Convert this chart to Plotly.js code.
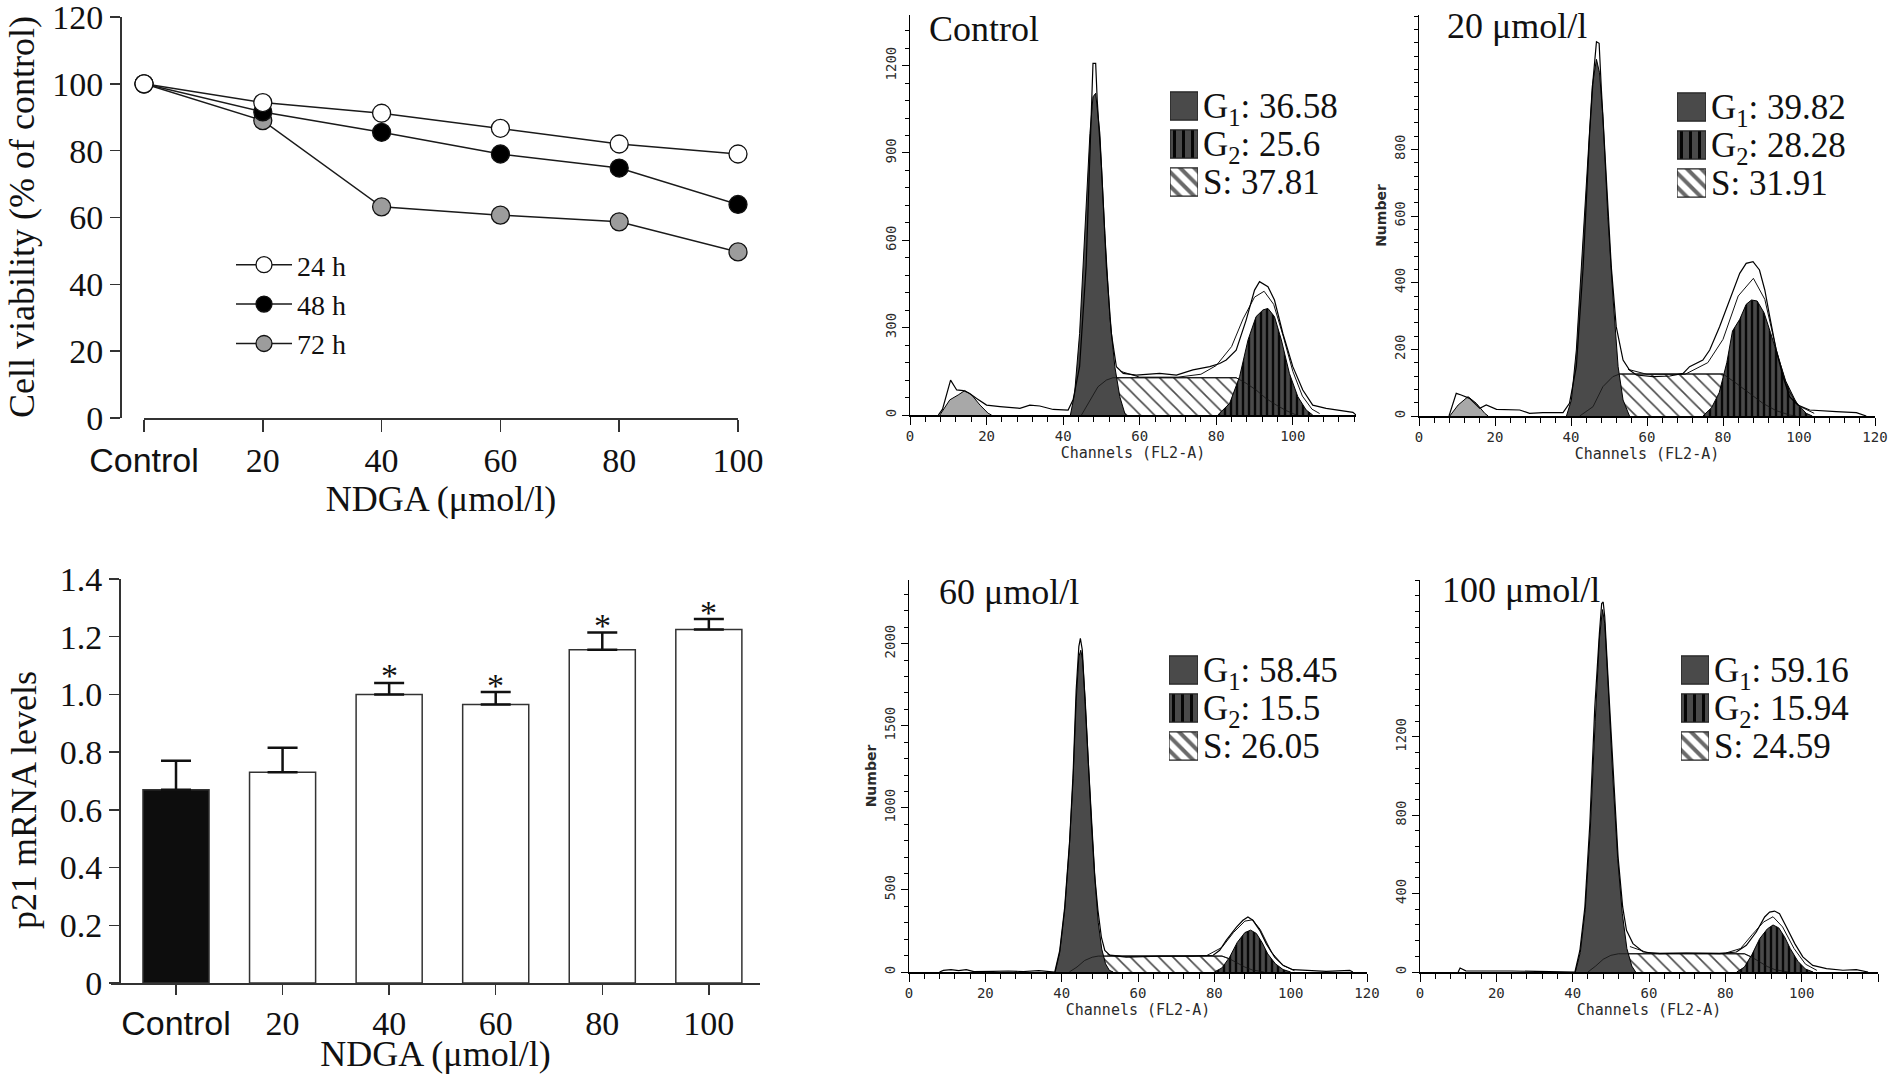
<!DOCTYPE html>
<html>
<head>
<meta charset="utf-8">
<script src="https://cdn.plot.ly/plotly-3.0.1.min.js"></script>
<style>
  html, body { margin: 0; padding: 0; background: #fff; }
  #fig { width: 1890px; height: 1074px; }
</style>
</head>
<body>
<div id="fig"></div>
<script>
// ---- cell viability (line chart) ----
const doses = ['Control', '20', '40', '60', '80', '100'];
const via24 = [100, 94.4, 91.2, 86.7, 82.0, 79.0];
const via48 = [100, 91.6, 85.5, 79.0, 74.8, 63.9];
const via72 = [100, 89.0, 63.2, 60.7, 58.7, 49.7];

// ---- p21 mRNA (bar chart) ----
const p21 = [0.67, 0.73, 1.00, 0.965, 1.155, 1.225];
const p21Err = [0.10, 0.085, 0.04, 0.043, 0.06, 0.036];
const p21Sig = ['', '', '*', '*', '*', '*'];

// ---- flow cytometry: phase percentages ----
const phaseKeys = ['G1', 'G2', 'S'];
const phaseLabels = ['G<sub>1</sub>', 'G<sub>2</sub>', 'S'];
const ctrlPct = [36.58, 25.6, 37.81];
const p20Pct = [39.82, 28.28, 31.91];
const p60Pct = [58.45, 15.5, 26.05];
const p100Pct = [59.16, 15.94, 24.59];

// ---- flow cytometry curves: [channel, count] ----
const ctrlRaw = [[7.4,0],[8.5,20],[10.6,120],[11.3,105],[12.2,86],[13.9,84],[15.5,75],[17.4,57],[20,34],[23.5,29],[28.7,23],[31.3,34],[33.9,31],[37.4,19],[41.3,17],[42.6,52],[44.3,166],[46,510],[47.4,1082],[47.8,1208],[48.5,1208],[48.9,1082],[50,853],[51.3,510],[52.6,280],[53.9,166],[55.7,143],[59.1,137],[65.2,143],[69.6,137],[73.9,155],[78.3,166],[80.9,177],[82.6,189],[85.2,223],[87.8,326],[90,429],[91.3,458],[93.5,441],[95.2,395],[97.4,280],[100,166],[102.6,86],[105.2,34],[108.7,23],[113,15],[115.7,9],[116.5,0]];
const ctrlFit = [[55,150],[60,130],[70,130],[76,140],[80,170],[84,235],[87,330],[90,405],[92.5,425],[95,380],[97.5,270],[100,150],[102.5,65],[105,20],[107,5]];
const ctrlG1 = [[41.9,0],[43,74],[44.3,280],[45.7,624],[47,967],[47.8,1093],[48.5,1105],[49.6,967],[50.9,624],[52.2,338],[53.5,166],[54.8,63],[56.1,6],[56.5,0]];
const ctrlS = [[44.8,0],[47,52],[49.1,97],[51.3,120],[53,128],[85.2,128],[87.8,109],[90.4,86],[93,57],[95.7,34],[98.3,15],[100.9,0]];
const ctrlG2 = [[80.4,0],[83.5,40],[86.1,132],[88.3,258],[90.4,338],[92.2,361],[93.5,366],[95.2,338],[97,258],[99.1,143],[101.3,63],[103.5,17],[105.2,0]];
const ctrlDebris = [[7.8,0],[10.4,52],[12.6,69],[14.3,84],[16.1,69],[18.3,34],[20.4,6],[21.3,0]];
const ctrlPeaks = [47.8, 91.3];

const p20Raw = [[7.9,0],[9.8,68],[11.1,63],[13.3,53],[16,23],[17.7,33],[20.4,20],[26.5,18],[29.1,8],[32.6,10],[37.9,10],[39.6,38],[41.4,148],[43.2,448],[44.9,848],[45.8,1008],[46.7,1123],[47.4,1118],[48,978],[49.3,698],[50.6,448],[51.9,268],[53.7,168],[55.4,138],[57.2,123],[61.6,118],[66,120],[69.5,128],[71.2,148],[74.7,168],[76.5,198],[79.1,268],[81.8,348],[84.4,428],[86.1,458],[87.9,463],[89.6,438],[91,378],[92.3,298],[94,198],[95.8,118],[97.5,58],[99.7,33],[102.8,18],[109.8,13],[115.1,10],[117.7,0]];
const p20Fit = [[55,140],[60,125],[70,125],[76,160],[80,230],[84,360],[88,413],[91,350],[94,200],[97,80],[100,30],[104,8]];
const p20G1 = [[38.8,0],[40.1,48],[41.4,198],[43.2,548],[44.5,798],[45.6,990],[46.7,1070],[47.5,1030],[48.4,898],[49.7,598],[51.1,348],[52.4,148],[53.7,48],[55.4,0]];
const p20S = [[42.3,0],[45.8,28],[48.4,88],[51,118],[52.8,126],[80,126],[83.5,98],[87,68],[90.5,38],[94,16],[97.5,3],[99.3,0]];
const p20G2 = [[74.7,0],[77,25],[79,70],[81,160],[82.5,255],[84.4,290],[86.1,335],[87.5,348],[89,345],[90.8,310],[92.5,250],[94.3,185],[96.5,105],[99.3,40],[101.9,8],[103.5,0]];
const p20Debris = [[8.1,0],[10.3,33],[12.9,58],[15.1,38],[17.3,8],[18.2,0]];
const p20Peaks = [46.9, 87.7];

const p60Raw = [[8,0],[9,10],[11,14],[13,8],[15,14],[17,2],[22,4],[26,6],[30,3],[34,8],[38.2,0],[39.5,132],[40.8,396],[42.1,803],[43,1210],[43.8,1718],[44.5,1982],[44.9,2033],[45.4,1962],[46,1718],[46.9,1311],[47.8,905],[48.6,600],[49.5,376],[50.4,213],[51.3,132],[52.6,102],[56.9,91],[65.7,96],[74.4,96],[79.7,102],[81.4,132],[83.1,193],[85.8,274],[87.5,315],[88.8,335],[90.1,315],[91.9,254],[93.6,173],[95.8,91],[98,41],[100.6,14],[104.1,10],[109.3,4],[115.5,10],[116.3,0]];
const p60Fit = [[52,105],[56,96],[78,100],[82,150],[85,240],[88,310],[90,318],[92,260],[95,120],[98,40],[101,8]];
const p60G1 = [[38.3,0],[39.5,120],[40.8,380],[42,760],[43,1180],[43.8,1650],[44.5,1920],[45,1960],[45.5,1900],[46.2,1650],[47,1280],[47.9,880],[48.8,540],[49.6,300],[50.5,140],[51.5,50],[52.5,10],[53.5,0]];
const p60S = [[42,0],[44,30],[46,70],[48,90],[49.6,97],[82,97],[84,80],[86,55],[88,30],[90,12],[92,3],[93,0]];
const p60G2 = [[80,0],[82,25],[84,90],[86,180],[88,240],[89.5,255],[91,235],[92.5,180],[94,110],[96,50],[98,15],[100,0]];
const p60Peaks = [44.7, 88.4];

const p100Raw = [[10,0],[10.5,20],[12,6],[16,4],[20,5],[24,5],[28,4],[30,0],[40.6,0],[41.9,111],[43.2,332],[44.5,757],[45.8,1353],[47,1728],[47.6,1881],[48,1889],[48.4,1813],[49.3,1489],[50.6,1013],[51.9,587],[53.1,332],[54.1,213],[55.8,145],[58.5,102],[62.8,94],[69.8,97],[78.5,94],[82.9,102],[85.5,136],[88.1,204],[90.3,281],[91.6,306],[92.9,311],[94.2,298],[96,230],[98.2,145],[100.3,77],[102.9,34],[106.5,17],[110.8,9],[114.3,12],[117.4,0]];
const p100Fit = [[55,130],[60,96],[80,96],[84,120],[87,190],[90,255],[92.5,282],[95,230],[98,120],[101,40],[104,8]];
const p100G1 = [[40.7,0],[42,100],[43.3,320],[44.6,720],[45.9,1280],[47,1700],[47.8,1850],[48.4,1780],[49.3,1460],[50.5,1000],[51.8,580],[53,300],[54.2,120],[55.5,30],[56.5,0]];
const p100S = [[44,0],[46,30],[48,65],[50,85],[52,93],[85,93],[87,75],[89,50],[91,28],[93,12],[95,3],[96.5,0]];
const p100G2 = [[83,0],[85,25],[87,90],[89,170],[91,220],[92.5,240],[94,225],[95.5,180],[97,120],[99,55],[101,15],[103,0]];
const p100Peaks = [48.3, 92.9];

// ---- helpers / styles ----
const SERIF = 'Liberation Serif, Times New Roman, serif';
const SANS = 'Liberation Sans, Arial, sans-serif';
const MONO = 'DejaVu Sans Mono, monospace';
const W = 1890, H = 1074;
const xd = (l, r) => [l / W, r / W];
const yd = (t, b) => [1 - b / H, 1 - t / H];

const doseTicks = doses.map(d => d === 'Control' ? `<span style="font-family:${SANS}">${d}</span>` : d);
const tickFont = {family: SERIF, size: 34, color: '#111'};
const titleFont = {family: SERIF, size: 36, color: '#111'};

const traces = [];
const annotations = [];

// line chart
const series = [
    {name: '72 h', y: via72, fill: '#9c9c9c'},
    {name: '48 h', y: via48, fill: '#000000'},
    {name: '24 h', y: via24, fill: '#ffffff'}
];
series.forEach(s => traces.push({
    type: 'scatter', mode: 'lines+markers', x: doses, y: s.y, name: s.name,
    xaxis: 'x', yaxis: 'y', cliponaxis: false,
    line: {color: '#1a1a1a', width: 1.5},
    marker: {size: 18, color: s.fill, line: {color: '#111', width: 1.3}}
}));

// bar chart
traces.push({
    type: 'bar', x: doses, y: p21, xaxis: 'x2', yaxis: 'y2', width: 0.62, showlegend: false,
    marker: {color: doses.map(d => d === 'Control' ? '#0d0d0d' : '#ffffff'), line: {color: '#333', width: 1.5}},
    error_y: {type: 'data', symmetric: false, array: p21Err, arrayminus: p21Err.map(() => 0),
              color: '#111', thickness: 2.5, width: 15}
});
// significance marks sit just above each error-bar cap (x given as category index)
p21Sig.forEach((s, i) => {
    if (!s) return;
    annotations.push({xref: 'x2', yref: 'y2', x: i, y: p21[i] + p21Err[i], text: s,
        showarrow: false, xanchor: 'center', yanchor: 'middle', yshift: 7,
        font: {family: SERIF, size: 34, color: '#111'}});
});

const layout = {
    width: W, height: H,
    margin: {l: 0, r: 0, t: 0, b: 0},
    paper_bgcolor: '#fff', plot_bgcolor: 'rgba(0,0,0,0)',
    showlegend: true, barmode: 'overlay',
    legend: {x: 231 / W, y: 1 - 240 / H, xanchor: 'left', yanchor: 'top', traceorder: 'reversed',
             itemwidth: 56,
             font: {family: SERIF, size: 28, color: '#111'}, bgcolor: 'rgba(0,0,0,0)', tracegroupgap: 0},
    xaxis: {domain: xd(144, 738), anchor: 'y', type: 'category', range: [0, 5],
            tickvals: doses, ticktext: doseTicks, tickfont: tickFont,
            showline: true, linecolor: '#333', linewidth: 1.5, ticks: 'outside', ticklen: 12,
            tickcolor: '#333', tickwidth: 1.5, showgrid: false, zeroline: false,
            title: {text: 'NDGA (μmol/l)', font: titleFont, standoff: 2}},
    yaxis: {domain: yd(17, 418), anchor: 'free', position: 120 / W, range: [0, 120],
            tickvals: [0, 20, 40, 60, 80, 100, 120], ticklabeloverflow: 'allow',
            tickfont: tickFont, showline: true, linecolor: '#333', linewidth: 1.5, ticks: 'outside',
            ticklen: 10, tickcolor: '#333', tickwidth: 1.5, showgrid: false, zeroline: false},
    xaxis2: {domain: xd(111, 760), anchor: 'y2', type: 'category', range: [-0.61, 5.48],
             tickvals: doses, ticktext: doseTicks, tickfont: tickFont,
             showline: true, linecolor: '#333', linewidth: 1.5, ticks: 'outside', ticklen: 10,
             tickcolor: '#333', tickwidth: 1.5, showgrid: false, zeroline: false,
             title: {text: 'NDGA (μmol/l)', font: titleFont, standoff: 0}},
    yaxis2: {domain: yd(579, 983), anchor: 'free', position: 119 / W, range: [0, 1.4],
             tickvals: [0, 0.2, 0.4, 0.6, 0.8, 1.0, 1.2, 1.4],
             ticktext: ['0', '0.2', '0.4', '0.6', '0.8', '1.0', '1.2', '1.4'],
             tickfont: tickFont, showline: true, linecolor: '#333', linewidth: 1.5, ticks: 'outside',
             ticklen: 10, tickcolor: '#333', tickwidth: 1.5, showgrid: false, zeroline: false},
    annotations: annotations
};

annotations.push({xref: 'paper', yref: 'paper', x: 22 / W, y: 1 - 217 / H, xanchor: 'center', yanchor: 'middle',
    textangle: -90, text: 'Cell viability (% of control)', showarrow: false, font: titleFont});
annotations.push({xref: 'paper', yref: 'paper', x: 24 / W, y: 1 - 800 / H, xanchor: 'center', yanchor: 'middle',
    textangle: -90, text: 'p21 mRNA levels', showarrow: false, font: titleFont});

// flow cytometry panels
const panels = [
    {title: 'Control', raw: ctrlRaw, fit: ctrlFit, g1: ctrlG1, g2: ctrlG2, s: ctrlS, debris: ctrlDebris,
     peaks: ctrlPeaks, pct: ctrlPct, yTicks: [0, 300, 600, 900, 1200], yMinor: 60, yTop: 1374, xMax: 116.5,
     ylabel: '', box: [910, 1356, 15, 415], titleAt: [927, 29], swatch: [1170, 1198, 87, 201]},
    {title: '20 μmol/l', raw: p20Raw, fit: p20Fit, g1: p20G1, g2: p20G2, s: p20S, debris: p20Debris,
     peaks: p20Peaks, pct: p20Pct, yTicks: [0, 200, 400, 600, 800], yMinor: 40, yTop: 1203, xMax: 120,
     ylabel: 'Number', box: [1419, 1875, 15, 416], titleAt: [1445, 26], swatch: [1677, 1706, 88, 202]},
    {title: '60 μmol/l', raw: p60Raw, fit: p60Fit, g1: p60G1, g2: p60G2, s: p60S, debris: null,
     peaks: p60Peaks, pct: p60Pct, yTicks: [0, 500, 1000, 1500, 2000], yMinor: 100, yTop: 2388, xMax: 120,
     ylabel: 'Number', box: [909, 1367, 580, 972], titleAt: [937, 592], swatch: [1169, 1198, 651, 765]},
    {title: '100 μmol/l', raw: p100Raw, fit: p100Fit, g1: p100G1, g2: p100G2, s: p100S, debris: null,
     peaks: p100Peaks, pct: p100Pct, yTicks: [0, 400, 800, 1200], yMinor: 80, yTop: 2001, xMax: 120,
     ylabel: '', box: [1420, 1878, 580, 972], titleAt: [1440, 590], swatch: [1681, 1709, 651, 765]}
];

const histTick = {family: MONO, size: 14, color: '#2a2a2a'};
// swatch styles for G1 / G2 / S keys
const swatchStyle = [
    {color: '#4a4a4a'},
    {color: '#4a4a4a', pattern: {shape: '|', fgcolor: '#050505', bgcolor: '#4a4a4a', size: 9, solidity: 0.33}},
    {color: '#ffffff', pattern: {shape: '\\', fgcolor: '#6a6a6a', bgcolor: '#ffffff', size: 10, solidity: 0.4}}
];

panels.forEach((p, i) => {
    const n = 3 + i, xa = 'x' + n, ya = 'y' + n;
    const curve = (pts, extra) => Object.assign({
        type: 'scatter', mode: 'lines', x: pts.map(q => q[0]), y: pts.map(q => q[1]),
        xaxis: xa, yaxis: ya, fill: 'tozeroy', line: {color: '#000', width: 1},
        hoverinfo: 'skip', showlegend: false
    }, extra);

    if (p.debris) traces.push(curve(p.debris, {fillcolor: '#a8a8a8'}));
    traces.push(curve(p.s, {fillcolor: '#ffffff',
        fillpattern: {shape: '\\', fgcolor: '#4a4a4a', bgcolor: '#ffffff', size: 10, solidity: 0.16}}));
    traces.push(curve(p.g1, {fillcolor: '#4a4a4a'}));
    traces.push(curve(p.g2, {fillcolor: '#4a4a4a',
        fillpattern: {shape: '|', fgcolor: '#080808', bgcolor: '#4a4a4a', size: 6, solidity: 0.4}}));
    traces.push(curve(p.s, {fill: 'none', line: {color: '#111', width: 0.8}}));
    traces.push(curve(p.fit, {fill: 'none', line: {color: '#111', width: 1}}));
    traces.push(curve(p.raw, {fill: 'none', line: {color: '#000', width: 1.2}}));
    traces.push({
        type: 'scatter', mode: 'markers', x: p.peaks, y: p.peaks.map(() => -p.yTop * 0.018),
        xaxis: xa, yaxis: ya, cliponaxis: false, hoverinfo: 'skip', showlegend: false,
        marker: {symbol: 'triangle-up', size: 13, color: '#000'}
    });

    layout['xaxis' + n] = {
        domain: xd(p.box[0], p.box[1]), anchor: ya, range: [0, p.xMax],
        tickvals: [0, 20, 40, 60, 80, 100, 120], tickfont: histTick,
        showline: true, linecolor: '#000', linewidth: 1.5, ticks: 'outside', ticklen: 8, tickcolor: '#000',
        minor: {dtick: 4, tick0: 0, ticks: 'outside', ticklen: 5, tickcolor: '#000'},
        showgrid: false, zeroline: false,
        title: {text: 'Channels (FL2-A)', font: {family: MONO, size: 15, color: '#2a2a2a'}, standoff: 0}
    };
    const yAxis = {
        domain: yd(p.box[2], p.box[3]), anchor: xa, range: [0, p.yTop],
        tickvals: p.yTicks, tickangle: -90, tickfont: histTick,
        showline: true, linecolor: '#000', linewidth: 1.5, ticks: 'outside', ticklen: 7, tickcolor: '#000',
        minor: {dtick: p.yMinor, tick0: 0, ticks: 'outside', ticklen: 4, tickcolor: '#000'},
        showgrid: false, zeroline: false
    };
    if (p.ylabel) yAxis.title = {text: p.ylabel, font: {family: 'DejaVu Sans', size: 14, color: '#2a2a2a', weight: 'bold'}, standoff: 2};
    layout['yaxis' + n] = yAxis;

    annotations.push({xref: 'paper', yref: 'paper', x: p.titleAt[0] / W, y: 1 - p.titleAt[1] / H,
        xanchor: 'left', yanchor: 'middle', text: p.title, showarrow: false, font: titleFont});

    // legend key: G1 / G2 / S swatches with percentages
    const sn = 7 + i;
    phaseKeys.forEach((k, j) => traces.push({
        type: 'bar', orientation: 'h', x: [1], y: [k],
        xaxis: 'x' + sn, yaxis: 'y' + sn, width: 0.74, hoverinfo: 'skip', showlegend: false,
        marker: Object.assign({line: {color: '#222', width: 1.2}}, swatchStyle[j])
    }));
    layout['xaxis' + sn] = {domain: xd(p.swatch[0], p.swatch[1]), anchor: 'y' + sn, range: [0, 1], visible: false};
    layout['yaxis' + sn] = {
        domain: yd(p.swatch[2], p.swatch[3]), anchor: 'x' + sn, type: 'category',
        categoryorder: 'array', categoryarray: phaseKeys, range: [2.5, -0.5], side: 'right',
        showline: false, showgrid: false, zeroline: false, ticks: '',
        tickvals: phaseKeys, ticktext: phaseKeys.map((k, j) => `${phaseLabels[j]}: ${p.pct[j]}`),
        tickfont: {family: SERIF, size: 35, color: '#111'}, ticklabelstandoff: 4
    };
});

Plotly.newPlot('fig', traces, layout, {displayModeBar: false, staticPlot: true});
</script>
</body>
</html>
